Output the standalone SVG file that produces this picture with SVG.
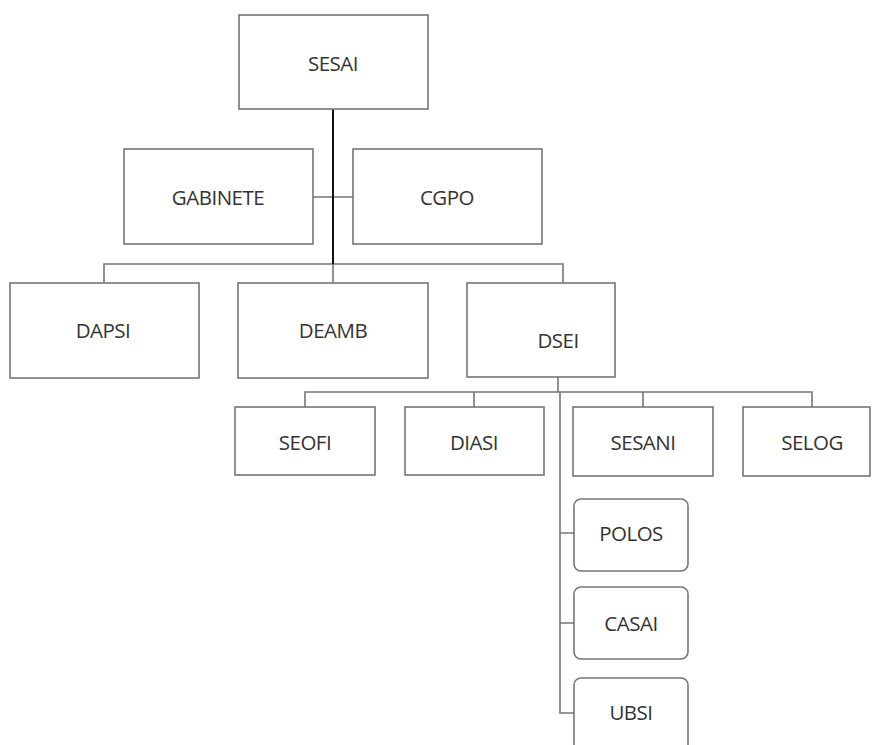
<svg xmlns="http://www.w3.org/2000/svg" width="874" height="745" viewBox="0 0 874 745">
<style>
.box{fill:#fff;stroke:#767676;stroke-width:1.6}
.rbox{fill:#fff;stroke:#767676;stroke-width:1.6}
.lbl{font-family:"Open Sans","Noto Sans","Liberation Sans",sans-serif;font-size:20.5px;fill:#333;text-anchor:middle;dominant-baseline:central;letter-spacing:-0.5px}
.con{fill:none;stroke:#767676;stroke-width:1.6}
.trunk{fill:none;stroke:#111;stroke-width:2}
</style>
<rect width="874" height="745" fill="#fff"/>
<g id="connectors">
<path class="con" d="M313,197 H353"/>
<path class="con" d="M104,283 V264 H563 V283"/>
<path class="con" d="M333,264 V283"/>
<path class="trunk" d="M333,109 V264"/>
<path class="con" d="M558,377 V392"/>
<path class="con" d="M305,407 V392 H812 V407"/>
<path class="con" d="M474,392 V407 M643,392 V407"/>
<path class="con" d="M560,392 V713 H574 M560,533 H574 M560,623 H574"/>
</g>
<g id="SESAI"><rect class="box" x="239" y="15" width="189" height="94"/><text class="lbl" x="333" y="63">SESAI</text></g>
<g id="GABINETE"><rect class="box" x="124" y="149" width="189" height="95"/><text class="lbl" x="218" y="197">GABINETE</text></g>
<g id="CGPO"><rect class="box" x="353" y="149" width="189" height="95"/><text class="lbl" x="447" y="197">CGPO</text></g>
<g id="DAPSI"><rect class="box" x="10" y="283" width="189" height="95"/><text class="lbl" x="103" y="330">DAPSI</text></g>
<g id="DEAMB"><rect class="box" x="238" y="283" width="190" height="95"/><text class="lbl" x="333" y="330">DEAMB</text></g>
<g id="DSEI"><rect class="box" x="467" y="283" width="148" height="94"/><text class="lbl" x="558" y="340">DSEI</text></g>
<g id="SEOFI"><rect class="box" x="235" y="407" width="140" height="68"/><text class="lbl" x="305" y="442">SEOFI</text></g>
<g id="DIASI"><rect class="box" x="405" y="407" width="139" height="68"/><text class="lbl" x="474" y="442">DIASI</text></g>
<g id="SESANI"><rect class="box" x="573" y="407" width="140" height="69"/><text class="lbl" x="643" y="442">SESANI</text></g>
<g id="SELOG"><rect class="box" x="743" y="407" width="127" height="69"/><text class="lbl" x="812" y="442">SELOG</text></g>
<g id="POLOS"><rect class="rbox" x="574" y="499" width="114" height="72" rx="7"/><text class="lbl" x="631" y="533">POLOS</text></g>
<g id="CASAI"><rect class="rbox" x="574" y="587" width="114" height="72" rx="7"/><text class="lbl" x="631" y="623">CASAI</text></g>
<g id="UBSI"><rect class="rbox" x="574" y="678" width="114" height="80" rx="7"/><text class="lbl" x="631" y="712">UBSI</text></g>
</svg>
